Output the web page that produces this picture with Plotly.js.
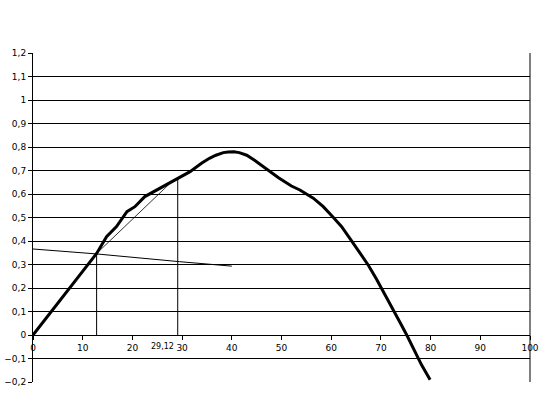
<!DOCTYPE html>
<html><head><meta charset="utf-8">
<script src="https://cdn.plot.ly/plotly-3.0.1.min.js"></script>
<style>html,body{margin:0;padding:0;background:#fff}#c{width:548px;height:394px}</style>
</head><body><div id="c"></div>
<script>
// Main curve
const curveX = [0, 12.8, 14.8, 16.8, 18.9, 20.5, 22.5, 24.9, 26.9, 29.2, 31.6, 33.9, 35.5, 36.8, 38.3, 39.3, 40.4, 41.5, 43, 44.5, 47.3, 49.4, 52.0, 53.7, 56.4, 58.4, 60.4, 62.1, 64.1, 65.8, 67.5, 69.1, 70.8, 72.5, 73.8, 75.2, 76.9, 78.2, 79.9];
const curveY = [0, 0.347, 0.418, 0.461, 0.525, 0.546, 0.589, 0.617, 0.638, 0.667, 0.695, 0.731, 0.752, 0.765, 0.776, 0.779, 0.780, 0.776, 0.765, 0.745, 0.702, 0.669, 0.634, 0.617, 0.582, 0.546, 0.501, 0.461, 0.401, 0.350, 0.296, 0.238, 0.174, 0.108, 0.055, 0.0, -0.071, -0.128, -0.19];
// Thin chord line
const chordX = [12.8, 27.4];
const chordY = [0.347, 0.642];
// Thin nearly horizontal line
const flatX = [0, 12.8, 29.5, 36.5, 40];
const flatY = [0.366, 0.345, 0.312, 0.298, 0.293];
// Vertical markers
const v1X = [12.8, 12.8];
const v1Y = [0, 0.347];
const v2X = [29.12, 29.12];
const v2Y = [0, 0.667];
const markLabel = "29,12";
const markLabelX = 26;

const thin = {color: '#000', width: 1};
const traces = [
  {x: flatX, y: flatY, mode: 'lines', line: thin, hoverinfo: 'skip'},
  {x: chordX, y: chordY, mode: 'lines', line: {color: '#000', width: 0.8}, hoverinfo: 'skip'},
  {x: v1X, y: v1Y, mode: 'lines', line: thin, hoverinfo: 'skip'},
  {x: v2X, y: v2Y, mode: 'lines', line: thin, hoverinfo: 'skip'},
  {x: curveX, y: curveY, mode: 'lines', line: {color: '#000', width: 3}, hoverinfo: 'skip'}
];
const font = {family: 'DejaVu Sans', size: 9, color: '#000'};
const layout = {
  width: 548, height: 394,
  margin: {l: 33, r: 18, t: 53, b: 12, pad: 0},
  paper_bgcolor: '#fff', plot_bgcolor: '#fff',
  showlegend: false,
  separators: ',.',
  font: font,
  xaxis: {
    range: [0, 100], dtick: 10, tick0: 0,
    anchor: 'free', position: 0.2 / 1.4,
    showgrid: false, zeroline: false,
    showline: true, linecolor: '#000', linewidth: 1,
    ticks: 'outside', ticklen: 4, tickcolor: '#000',
    tickfont: font
  },
  yaxis: {
    range: [-0.2, 1.2], dtick: 0.1, tick0: 0,
    showgrid: true, gridcolor: '#000', gridwidth: 1,
    zeroline: false,
    showline: true, linecolor: '#000', linewidth: 1,
    ticks: 'outside', ticklen: 4, tickcolor: '#000',
    tickformat: '.1~f',
    tickfont: font
  },
  shapes: [
    {type: 'line', xref: 'paper', yref: 'paper', x0: 1, x1: 1, y0: 0, y1: 1, line: {color: '#000', width: 1}}
  ],
  annotations: [
    {x: markLabelX, y: 0, xref: 'x', yref: 'y', text: markLabel, showarrow: false, yshift: -11, font: {family: 'DejaVu Sans', size: 8, color: '#000'}}
  ]
};
Plotly.newPlot('c', traces, layout, {staticPlot: true, displayModeBar: false});
</script></body></html>
